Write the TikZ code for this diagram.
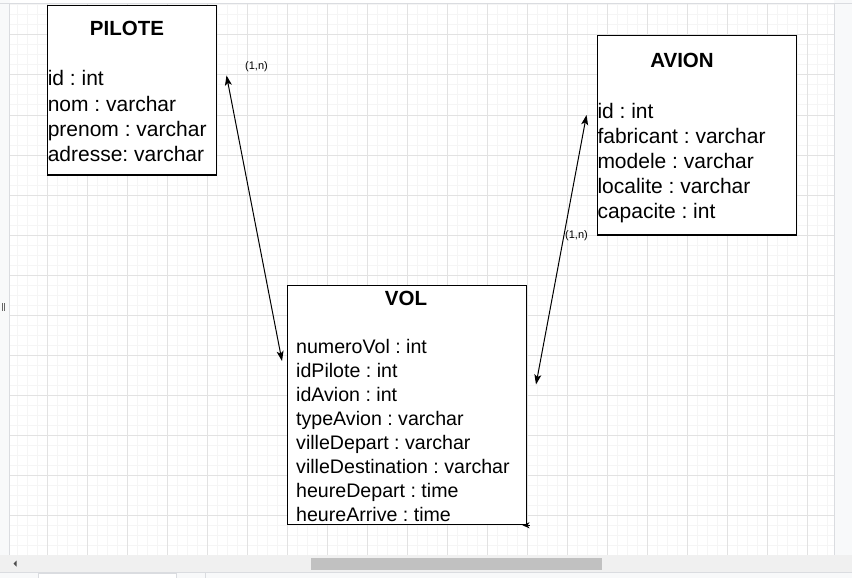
\documentclass[tikz,border=0pt]{standalone}
\usepackage{fontspec}
\setmainfont{Liberation Sans}
\usetikzlibrary{arrows.meta}
\definecolor{gridmajor}{HTML}{E2E2E2}
\definecolor{gridminor}{HTML}{F5F5F5}
\definecolor{uipanel}{HTML}{F8F9FA}
\definecolor{uiline}{HTML}{DADCE0}
\definecolor{scrolltrack}{HTML}{F0F0F0}
\definecolor{scrollthumb}{HTML}{C1C1C1}
\frenchspacing

\begin{document}
\begin{tikzpicture}[
  x=1pt, y=-1pt,
  entity/.style={rectangle, draw, line width=1.2pt, fill=white, inner sep=0pt, anchor=north west},
  titletext/.style={font=\fontsize{20.5}{24}\selectfont\bfseries, inner sep=0pt, anchor=base},
  attr/.style={font=\fontsize{21}{25}\selectfont, inner sep=0pt, anchor=base west},
  vattr/.style={attr, font=\fontsize{19.6}{24}\selectfont},
  cardlabel/.style={font=\fontsize{11}{13}\selectfont, inner sep=0pt},
  linkarrow/.style={{Stealth[length=10pt,width=7pt,inset=2.5pt]}-{Stealth[length=10pt,width=7pt,inset=2.5pt]}, line width=1pt}
]
\useasboundingbox (0,0) rectangle (852,578);

% Canvas, grid and editor frame
\fill[white] (0,0) rectangle (852,578);
\fill[uipanel] (0,0) rectangle (9.5,555);
\foreach \x in {17,27,...,827} \draw[gridminor, line width=1pt] (\x,4) -- (\x,555);
\foreach \y in {5,15,...,545} \draw[gridminor, line width=1pt] (10,\y) -- (834,\y);
\foreach \x in {47,87,...,807} \draw[gridmajor, line width=1pt] (\x,4) -- (\x,555);
\foreach \y in {35,75,...,515} \draw[gridmajor, line width=1pt] (10,\y) -- (834,\y);
\fill[uipanel] (834,0) rectangle (852,555);
\draw[uiline] (0,3.5) -- (852,3.5);
\draw[uiline] (9.5,3.5) -- (9.5,555);
\draw[uiline] (834,3.5) -- (834,555);
\draw[black!60, line width=0.8pt] (2,303) -- (2,311) (4.5,303) -- (4.5,311);

% Scrollbar and tabs
\fill[scrolltrack] (0,555) rectangle (852,572);
\fill[scrollthumb] (311,557.5) rectangle (602,570);
\fill[black!70] (13.5,563.5) -- (16.5,560.5) -- (16.5,566.5) -- cycle;
\fill[uipanel] (0,572) rectangle (852,578);
\draw[uiline] (0,572.5) -- (852,572.5);
\fill[white] (38.5,573) rectangle (176.5,578);
\draw[uiline] (38.5,578) -- (38.5,573) -- (176.5,573) -- (176.5,578);
\draw[uiline] (205,573) -- (205,578);

% Entities
\node[entity, minimum width=169pt, minimum height=169pt] (pilote) at (46.7,5.3) {};
\node[entity, minimum width=199pt, minimum height=199pt] (avion) at (596.7,35.3) {};
\node[entity, minimum width=239pt, minimum height=239pt] (vol) at (286.7,285.2) {};

\node[titletext] (piloteT) at (127,36) {PILOTE};
\node[titletext] (avionT) at (682,67.5) {AVION};
\node[titletext] (volT) at (406,305) {VOL};

\foreach \t [count=\i] in {id : int, nom : varchar, prenom : varchar, adresse: varchar}
  \node[attr] (pa\i) at (47.6,{61+25*\i}) {\t};
\foreach \t [count=\i] in {id : int, fabricant : varchar, modele : varchar, localite : varchar, capacite : int}
  \node[attr] (aa\i) at (597.3,{93+25*\i}) {\t};
\foreach \t [count=\i] in {numeroVol : int, idPilote : int, idAvion : int, typeAvion : varchar, villeDepart : varchar, villeDestination : varchar, heureDepart : time, heureArrive : time}
  \node[vattr] (va\i) at (296,{329+24*\i}) {\t};

% Links
\coordinate (pl) at (226.5,75.5);
\coordinate (vl) at (282,361);
\coordinate (al) at (586.5,115);
\coordinate (vr) at (536,384.5);
\coordinate (vs) at (529.5,525.3);
\coordinate (vt) at (522.5,525.3);

\draw[linkarrow] (pl) -- (vl);
\draw[linkarrow] (al) -- (vr);
\draw[-{Stealth[length=7pt,width=6pt,inset=2pt]}, line width=1pt] (vs) -- (vt);

\node[cardlabel] (card1) at (256.5,67) {(1,n)};
\node[cardlabel] (card2) at (576.5,236) {(1,n)};

\end{tikzpicture}
\end{document}
